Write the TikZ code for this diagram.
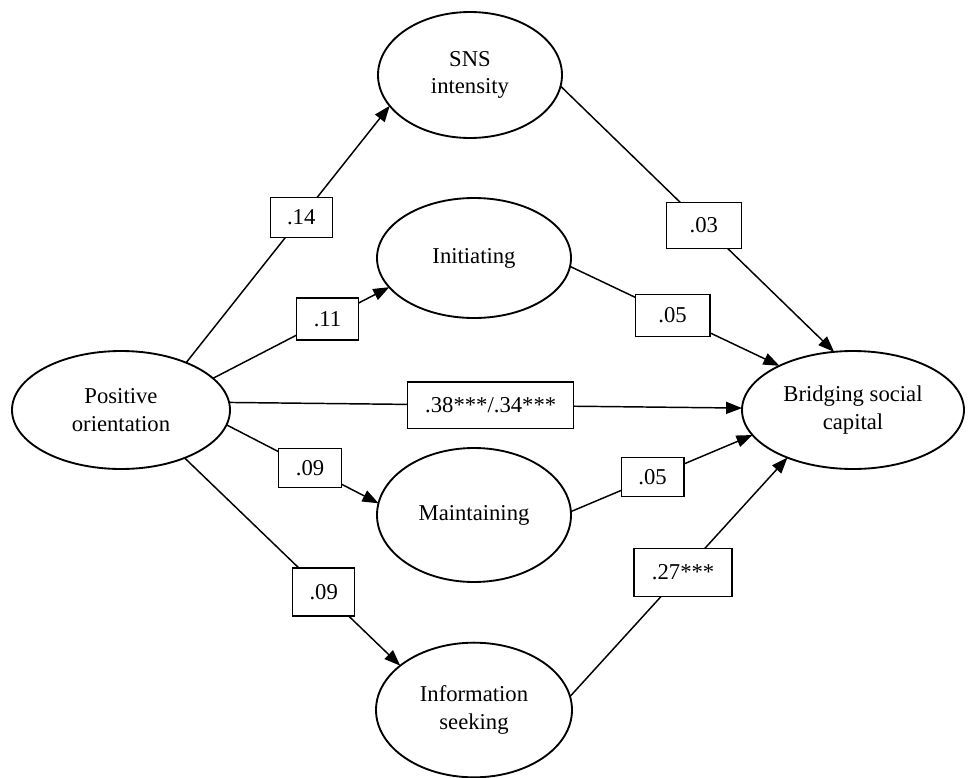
\documentclass[tikz,border=0pt]{standalone}
\usepackage{fontspec}
\setmainfont{Liberation Serif}
\usetikzlibrary{shapes.geometric,arrows.meta}
\newcommand{\labfont}{\fontsize{17}{20.5}\selectfont}
\tikzset{
  latent/.style={ellipse, draw, line width=1.4pt, inner sep=0pt, outer sep=0pt, align=center, font=\labfont, fill=white},
  coef/.style={draw, fill=white, line width=0.9pt, inner sep=0pt, outer sep=0pt, font=\labfont},
  conn/.style={line width=1.1pt, -{Triangle[length=12pt,width=9pt]}}
}
\begin{document}
\begin{tikzpicture}[x=0.75pt,y=-0.75pt]
\useasboundingbox (0,0) rectangle (968,778);
% latent variables
\node[latent, minimum width=138pt, minimum height=94.5pt] (SNS) at (470,75) {SNS\\intensity};
\node[latent, minimum width=145.5pt, minimum height=90pt] (INI) at (474,258) {Initiating};
\node[latent, minimum width=163.5pt, minimum height=88.5pt] (PO) at (121,410) {Positive\\orientation};
\node[latent, minimum width=166.5pt, minimum height=88.5pt] (BSC) at (853,410) {Bridging social\\capital};
\node[latent, minimum width=145.5pt, minimum height=100.5pt] (MAI) at (474,515) {Maintaining};
\node[latent, minimum width=147pt, minimum height=101pt] (INF) at (474,710) {Information\\seeking};
% paths with coefficients
\draw[conn] (PO.36) -- node[coef, pos=0.565, minimum width=46.5pt, minimum height=29.5pt] {.14} (SNS.201);
\draw[conn] (PO.19) -- node[coef, pos=0.65, minimum width=46.5pt, minimum height=31.5pt] {.11} (INI.199);
\draw[conn] (PO.4) -- node[coef, pos=0.51, minimum width=124.5pt, minimum height=35pt] {.38***/.34***} (BSC.179);
\draw[conn] (PO.-8) -- node[coef, pos=0.55, minimum width=47pt, minimum height=29.5pt] {.09} (MAI.173);
\draw[conn] (PO.-37) -- node[coef, pos=0.645, minimum width=46.5pt, minimum height=36pt] {.09} (INF.149);
\draw[conn] (SNS.-7) -- node[coef, pos=0.524, minimum width=56pt, minimum height=34.5pt] {.03} (BSC.108);
\draw[conn] (INI.-5) -- node[coef, pos=0.49, minimum width=56pt, minimum height=31.5pt] {.05} (BSC.149);
\draw[conn] (MAI.2) -- node[coef, pos=0.45, minimum width=47pt, minimum height=29.5pt] {.05} (BSC.194);
\draw[conn] (INF.8.5) -- node[coef, pos=0.52, minimum width=73.5pt, minimum height=36pt] {.27***} (BSC.216);
\end{tikzpicture}
\end{document}
